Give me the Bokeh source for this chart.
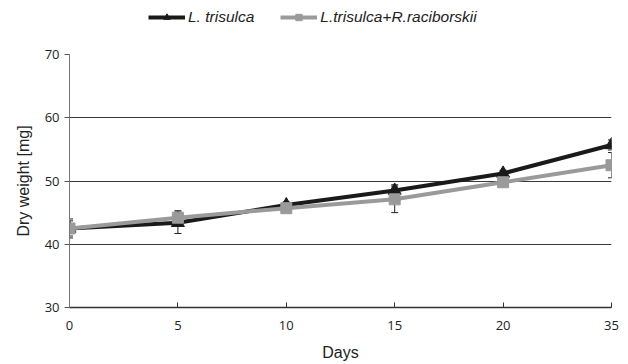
from bokeh.plotting import figure
from bokeh.layouts import column
from bokeh.models import ColumnDataSource, Whisker, Legend, LegendItem, FixedTicker, Range1d
from bokeh.core.properties import value
from bokeh.embed import file_html
from bokeh.resources import INLINE

days = ["0", "5", "10", "15", "20", "35"]
trisulca = [42.5, 43.4, 46.2, 48.5, 51.2, 55.7]
trisulca_err = [1.2, 1.7, 0.5, 0.9, 0.5, 0.8]
mixed = [42.5, 44.2, 45.7, 47.1, 49.8, 52.5]
mixed_err = [1.5, 1.1, 0.4, 2.1, 0.5, 2.0]
series_names = ["L. trisulca", "L.trisulca+R.raciborskii"]
y_ticks = [30, 40, 50, 60, 70]

BLACK = "#1a1a1a"
GRAY = "#9a9a9a"
xs = list(range(len(days)))

src1 = ColumnDataSource(dict(x=xs, y=trisulca,
                             lo=[v - e for v, e in zip(trisulca, trisulca_err)],
                             hi=[v + e for v, e in zip(trisulca, trisulca_err)]))
src2 = ColumnDataSource(dict(x=xs, y=mixed,
                             lo=[v - e for v, e in zip(mixed, mixed_err)],
                             hi=[v + e for v, e in zip(mixed, mixed_err)]))

# ---- legend strip on top (its renderers hold the data but lie outside its tiny view) ----
top = figure(width=628, height=34, output_backend="svg", toolbar_location=None,
             x_range=Range1d(-3, -2), y_range=Range1d(-3, -2), min_border=0)
top.outline_line_color = None
top.axis.visible = False
top.grid.grid_line_color = None
d1 = top.line("x", "y", source=src1, line_color=BLACK, line_width=4)
d1m = top.scatter("x", "y", source=src1, marker="triangle", size=12,
                  fill_color=BLACK, line_color=BLACK)
d2 = top.line("x", "y", source=src2, line_color=GRAY, line_width=4)
d2m = top.scatter("x", "y", source=src2, marker="square", size=10,
                  fill_color=GRAY, line_color=GRAY)
legend = Legend(items=[LegendItem(label=series_names[0], renderers=[d1, d1m]),
                       LegendItem(label=series_names[1], renderers=[d2, d2m])],
                orientation="horizontal", location=(79, 8),
                label_text_font="Liberation Sans", label_text_font_style="italic",
                label_text_font_size="15.5px", label_text_color="#222222",
                glyph_width=37, glyph_height=16, label_standoff=3, spacing=26,
                padding=0, margin=0, border_line_color=None, background_fill_alpha=0)
top.add_layout(legend, "center")

# ---- main plot ----
p = figure(width=628, height=330, output_backend="svg", toolbar_location=None,
           x_range=Range1d(0, len(days) - 1), y_range=Range1d(y_ticks[0], y_ticks[-1]),
           min_border_left=69, min_border_right=17, min_border_bottom=57, min_border_top=20)
p.outline_line_color = None
p.background_fill_color = "white"

for s in (src1, src2):
    w = Whisker(source=s, base="x", lower="lo", upper="hi", line_color="#222222", line_width=1)
    w.upper_head.size = 7
    w.lower_head.size = 7
    w.upper_head.line_color = "#222222"
    w.lower_head.line_color = "#222222"
    p.add_layout(w)

p.line("x", "y", source=src1, line_color=BLACK, line_width=4)
p.scatter("x", "y", source=src1, marker="triangle", size=13, fill_color=BLACK, line_color=BLACK)
p.line("x", "y", source=src2, line_color=GRAY, line_width=4)
p.scatter("x", "y", source=src2, marker="square", size=11, fill_color=GRAY, line_color=GRAY)

p.text(x=[xs[-1]], y=[trisulca[-1]], text=["*"], x_offset=6, y_offset=10, text_font_size="14px",
       text_color="#222222", text_baseline="middle", text_font=value("Liberation Sans"))

p.xaxis.ticker = FixedTicker(ticks=xs)
p.xaxis.major_label_overrides = {i: d for i, d in enumerate(days)}
p.xaxis.axis_label = "Days"
p.yaxis.axis_label = "Dry weight [mg]"
p.yaxis.ticker = FixedTicker(ticks=y_ticks)

for ax in (p.xaxis[0], p.yaxis[0]):
    ax.axis_label_text_font = "Liberation Sans"
    ax.axis_label_text_font_style = "normal"
    ax.axis_label_text_font_size = "16px"
    ax.axis_label_text_color = "#222222"
    ax.major_label_text_font = "Open Sans"
    ax.major_label_text_font_size = "13px"
    ax.major_label_text_color = "#222222"
    ax.minor_tick_line_color = None

p.xaxis.axis_line_color = "#333333"
p.xaxis.axis_line_width = 1.5
p.xaxis.major_tick_in = 5
p.xaxis.major_tick_out = 0
p.xaxis.major_tick_line_color = "#333333"
p.xaxis.axis_label_standoff = 11
p.xaxis.major_label_standoff = 13

p.yaxis.axis_line_color = "#777777"
p.yaxis.major_tick_in = 0
p.yaxis.major_tick_out = 5
p.yaxis.major_tick_line_color = "#555555"
p.yaxis.major_label_standoff = 5
p.yaxis.axis_label_standoff = 10

p.xgrid.grid_line_color = None
p.ygrid.grid_line_color = "#3a3a3a"
p.ygrid.grid_line_width = 1

layout = column(top, p, spacing=0)
open("out.html", "w").write(file_html(layout, INLINE))
